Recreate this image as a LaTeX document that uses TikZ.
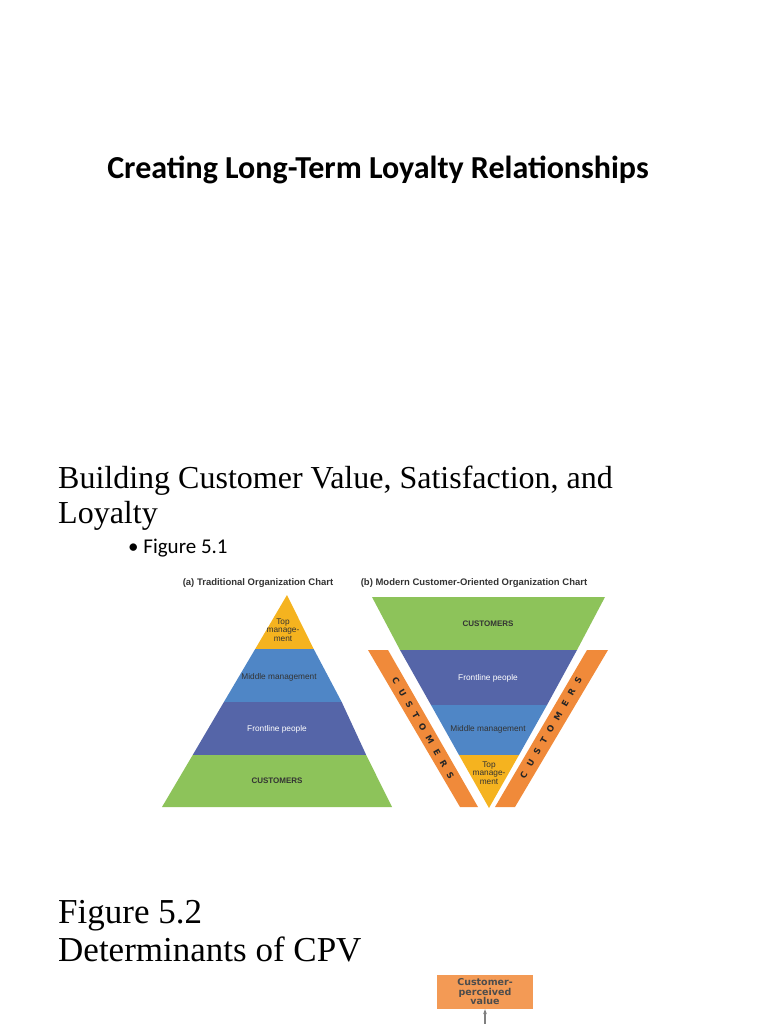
\documentclass[tikz,border=0pt]{standalone}
\usepackage{fontspec}
\setmainfont{Liberation Serif}
\newfontfamily\calfont{Carlito}
\newfontfamily\arl{Liberation Sans}
\newfontfamily\dvs{DejaVu Sans}
\usetikzlibrary{arrows.meta}
\definecolor{gr}{HTML}{8DC35A}
\definecolor{yl}{HTML}{F5B31F}
\definecolor{bl}{HTML}{4F86C6}
\definecolor{db}{HTML}{5565A8}
\definecolor{org}{HTML}{F08A3A}
\definecolor{obox}{HTML}{F39A55}
\tikzset{lbl/.style={font=\arl\fontsize{8.3}{8.6}\selectfont,text=black!80,align=center,inner sep=0pt},
wl/.style={lbl,text=white},
captxt/.style={font=\arl\bfseries\fontsize{9.5}{10}\selectfont,text=black!80},
custtxt/.style={font=\arl\bfseries\fontsize{8}{9}\selectfont,text=black!80},
strip/.style={font=\dvs\bfseries\fontsize{8.5}{9}\selectfont,text=black!85}}
\begin{document}
\begin{tikzpicture}[x=1pt,y=-1pt]
\useasboundingbox (0,0) rectangle (768,1024);
\node[font=\calfont\bfseries\fontsize{32}{38}\selectfont] (t) at (378,170) {Creating Long-Term Loyalty Relationships};
\node[font=\fontsize{32}{35}\selectfont,anchor=west,align=left,inner sep=0pt] (b) at (58,498) {Building Customer Value, Satisfaction, and\\Loyalty};
\node[font=\calfont\fontsize{21}{24}\selectfont,anchor=west,inner sep=0pt] (f1) at (128,548) {\textbullet\ Figure 5.1};
\node[font=\fontsize{35}{38}\selectfont,anchor=west,align=left,inner sep=0pt] (f2) at (58,931) {Figure 5.2\\Determinants of CPV};
% left pyramid
\fill[yl] (287,595) -- (255.2,649) -- (313.7,649) -- cycle;
\fill[bl] (255.2,649) -- (313.7,649) -- (341.7,702) -- (223.9,702) -- cycle;
\fill[db] (223.9,702) -- (341.7,702) -- (366.2,755) -- (192.7,755) -- cycle;
\fill[gr] (192.7,755) -- (366.2,755) -- (392,807) -- (162,807) -- cycle;
\node[captxt] (ca) at (258,583) {(a) Traditional Organization Chart};
\node[lbl] (a1) at (283,630) {Top\\manage-\\ment};
\node[lbl] (a2) at (279,677) {Middle management};
\node[wl] (a3) at (277,729) {Frontline people};
\node[custtxt] (a4) at (277,781) {CUSTOMERS};
% right
\node[captxt] (cb) at (474,583) {(b) Modern Customer-Oriented Organization Chart};
\fill[gr] (372,597) -- (605,597) -- (577,650) -- (400,650) -- cycle;
\fill[db] (400,650) -- (577,650) -- (547,705) -- (431,705) -- cycle;
\fill[bl] (431,705) -- (547,705) -- (519,755) -- (459,755) -- cycle;
\fill[yl] (459,755) -- (519,755) -- (489,808) -- cycle;
\node[custtxt] (b1) at (488,624) {CUSTOMERS};
\node[wl] (b2) at (488,678) {Frontline people};
\node[lbl] (b3) at (488,729) {Middle management};
\node[lbl] (b4) at (489,773) {Top\\manage-\\ment};
\fill[org] (368,650) -- (388,650) -- (478,807) -- (460,807) -- cycle;
\fill[org] (587,650) -- (608,650) -- (515,807) -- (495,807) -- cycle;
\node[strip,rotate=-60] (s1) at (423,728) {C\hspace{7pt}U\hspace{7pt}S\hspace{7pt}T\hspace{7pt}O\hspace{7pt}M\hspace{7pt}E\hspace{7pt}R\hspace{7pt}S};
\node[strip,rotate=60] (s2) at (551,728) {C\hspace{7pt}U\hspace{7pt}S\hspace{7pt}T\hspace{7pt}O\hspace{7pt}M\hspace{7pt}E\hspace{7pt}R\hspace{7pt}S};
% bottom box
\node[fill=obox,minimum width=96pt,minimum height=34pt,align=center,inner sep=0pt,font=\dvs\bfseries\fontsize{9.5}{9.5}\selectfont,text=black!70] (cpv) at (485,992) {Customer-\\perceived\\value};
\coordinate (ab) at (485,1024);
\draw[gray,line width=1.5pt,-{Stealth[length=5pt]}] (ab) -- (cpv.south);
\end{tikzpicture}
\end{document}
